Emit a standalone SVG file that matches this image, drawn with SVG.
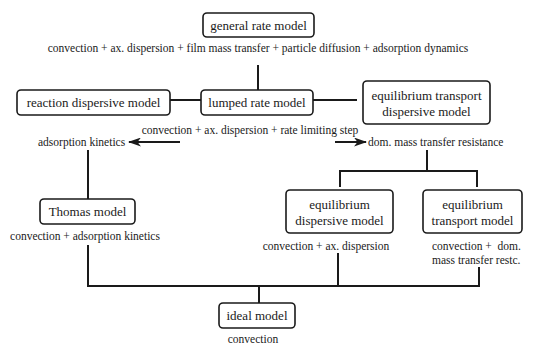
<svg xmlns="http://www.w3.org/2000/svg" width="545" height="345" viewBox="0 0 545 345">
  <style>
    .box { fill: #ffffff; stroke: #1a1a1a; stroke-width: 1.6; }
    .lbl { font-size: 13px; fill: #1a1a1a; text-anchor: middle; }
    .note { font-size: 11.5px; fill: #1a1a1a; }
    .mid { text-anchor: middle; }
    .wire { fill: none; stroke: #1a1a1a; stroke-width: 2; }
  </style>
  <defs>
    <!-- swept arrowhead for the two branch arrows -->
    <marker id="head" viewBox="0 0 13 9" refX="12" refY="4.5" markerWidth="13" markerHeight="9" markerUnits="userSpaceOnUse" orient="auto">
      <path d="M0,0 L13,4.5 L0,9 L3.5,4.5 Z" fill="#1a1a1a"/>
    </marker>
  </defs>
  <rect width="545" height="345" fill="#ffffff"/>

  <g id="connectors">
    <line class="wire" x1="258" y1="65" x2="258" y2="90"/>
    <line class="wire" x1="170" y1="100" x2="201" y2="100"/>
    <line class="wire" x1="313" y1="100" x2="357" y2="100"/>
    <line class="wire" x1="180" y1="142" x2="129" y2="142" marker-end="url(#head)"/>
    <line class="wire" x1="335" y1="142" x2="366" y2="142" marker-end="url(#head)"/>
    <line class="wire" x1="88" y1="150" x2="88" y2="199"/>
    <polyline class="wire" points="427,150 427,171"/>
    <polyline class="wire" points="340,187 340,171 477,171 477,187"/>
    <polyline class="wire" points="88,245 88,286 479,286 479,267"/>
    <line class="wire" x1="338" y1="253" x2="338" y2="286"/>
    <line class="wire" x1="259" y1="286" x2="259" y2="303"/>
  </g>

  <g font-family="Liberation Serif, Times New Roman, serif">
  <g id="general-rate">
    <rect class="box" x="203" y="13" width="111" height="24" rx="4"/>
    <text class="lbl" x="258.5" y="29.5">general rate model</text>
    <text class="note mid" x="258" y="52">convection + ax. dispersion + film mass transfer + particle diffusion + adsorption dynamics</text>
  </g>

  <g id="reaction-dispersive">
    <rect class="box" x="17" y="90" width="153" height="25" rx="4"/>
    <text class="lbl" x="93.5" y="106.5">reaction dispersive model</text>
  </g>

  <g id="lumped-rate">
    <rect class="box" x="201" y="90" width="112" height="25" rx="4"/>
    <text class="lbl" x="257" y="106.5">lumped rate model</text>
    <text class="note mid" x="250" y="134">convection + ax. dispersion + rate limiting step</text>
  </g>

  <g id="equilibrium-transport-dispersive">
    <rect class="box" x="363" y="81" width="127" height="43" rx="4"/>
    <text class="lbl" x="426.5" y="100">equilibrium transport</text>
    <text class="lbl" x="426.5" y="116">dispersive model</text>
  </g>

  <g id="adsorption-kinetics">
    <text class="note" x="38" y="146">adsorption kinetics</text>
  </g>

  <g id="mass-transfer-resistance">
    <text class="note" x="368" y="146">dom. mass transfer resistance</text>
  </g>

  <g id="thomas">
    <rect class="box" x="40" y="199" width="95" height="25" rx="4"/>
    <text class="lbl" x="87.5" y="215.5">Thomas model</text>
    <text class="note mid" x="85" y="240">convection + adsorption kinetics</text>
  </g>

  <g id="equilibrium-dispersive">
    <rect class="box" x="286" y="190" width="107" height="43" rx="4"/>
    <text class="lbl" x="339.5" y="209">equilibrium</text>
    <text class="lbl" x="339.5" y="225">dispersive model</text>
    <text class="note mid" x="326" y="250">convection + ax. dispersion</text>
  </g>

  <g id="equilibrium-transport">
    <rect class="box" x="423" y="190" width="99" height="43" rx="4"/>
    <text class="lbl" x="472.5" y="209">equilibrium</text>
    <text class="lbl" x="472.5" y="225">transport model</text>
    <text class="note" x="432" y="250" xml:space="preserve">convection +  dom.</text>
    <text class="note" x="432" y="264">mass transfer restc.</text>
  </g>

  <g id="ideal">
    <rect class="box" x="219" y="303" width="76" height="25" rx="4"/>
    <text class="lbl" x="257" y="319.5">ideal model</text>
    <text class="note mid" x="253" y="343">convection</text>
  </g>
  </g>
</svg>
